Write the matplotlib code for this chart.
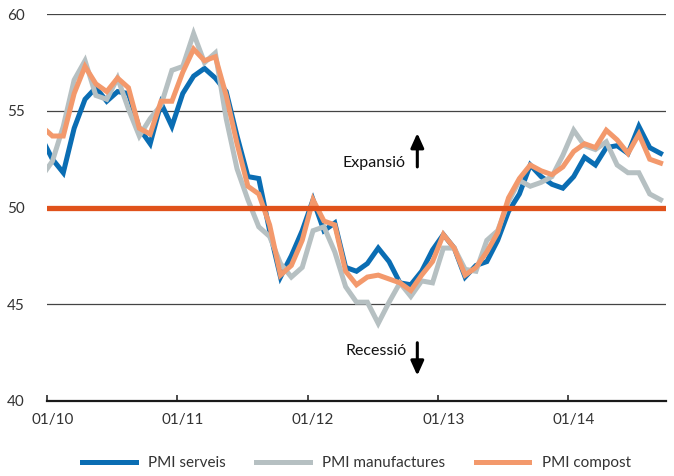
import numpy as np
import pandas as pd
import matplotlib
matplotlib.use("Agg")
import matplotlib.pyplot as plt

# ------------------------------------------------------------
# DATA (monthly PMI, Dec 2009 - Sep 2014)
# ------------------------------------------------------------
months = pd.period_range("2009-12", "2014-09", freq="M")

serveis = [
    53.6,
    52.5, 51.8, 54.1, 55.6, 56.2, 55.5, 56.0, 55.9, 54.1, 53.3, 55.4, 54.2,
    55.9, 56.8, 57.2, 56.7, 56.0, 53.7, 51.6, 51.5, 48.8, 46.4, 47.5, 48.8,
    50.4, 48.8, 49.2, 46.9, 46.7, 47.1, 47.9, 47.2, 46.1, 46.0, 46.7, 47.8,
    48.6, 47.9, 46.4, 47.0, 47.2, 48.3, 49.8, 50.7, 52.2, 51.6, 51.2, 51.0,
    51.6, 52.6, 52.2, 53.1, 53.2, 52.8, 54.2, 53.1, 52.8,
]

manufactures = [
    51.6,
    52.4, 54.2, 56.6, 57.6, 55.8, 55.6, 56.7, 55.1, 53.7, 54.6, 55.3, 57.1,
    57.3, 59.0, 57.5, 58.0, 54.6, 52.0, 50.4, 49.0, 48.5, 47.1, 46.4, 46.9,
    48.8, 49.0, 47.7, 45.9, 45.1, 45.1, 44.0, 45.1, 46.1, 45.4, 46.2, 46.1,
    47.9, 47.9, 46.8, 46.7, 48.3, 48.8, 50.3, 51.4, 51.1, 51.3, 51.6, 52.7,
    54.0, 53.2, 53.0, 53.4, 52.2, 51.8, 51.8, 50.7, 50.4,
]

compost = [
    54.2,
    53.7, 53.7, 55.9, 57.3, 56.4, 56.0, 56.7, 56.2, 54.1, 53.8, 55.5, 55.5,
    57.0, 58.2, 57.6, 57.8, 55.8, 53.3, 51.1, 50.7, 49.1, 46.5, 47.0, 48.3,
    50.4, 49.3, 49.1, 46.7, 46.0, 46.4, 46.5, 46.3, 46.1, 45.7, 46.5, 47.2,
    48.6, 47.9, 46.5, 46.9, 47.7, 48.7, 50.5, 51.5, 52.2, 51.9, 51.7, 52.1,
    52.9, 53.3, 53.1, 54.0, 53.5, 52.8, 53.8, 52.5, 52.3,
]

threshold = 50
tick_months = [pd.Period(m, "M") for m in ["2010-01", "2011-01", "2012-01", "2013-01", "2014-01"]]
tick_labels = ["01/10", "01/11", "01/12", "01/13", "01/14"]
axis_end = pd.Period("2014-10", "M")

series_names = ["PMI serveis", "PMI manufactures", "PMI compost"]
series_colors = ["#0a6db3", "#b6c0c2", "#f3996c"]

# ------------------------------------------------------------
# PLOTTING
# ------------------------------------------------------------
plt.rcParams["font.family"] = ["Lato", "DejaVu Sans"]

origin = pd.Period("2010-01", "M")
x = np.array([(m - origin).n for m in months]) + 0.5   # mid-month
x_ticks = [(m - origin).n for m in tick_months]
x_end = (axis_end - origin).n

fig = plt.figure(figsize=(6.74, 4.76), dpi=100)
ax = fig.add_axes([47 / 674, 1 - 400.7 / 476, 619 / 674, 386.4 / 476])

for vals, name, col in zip([serveis, manufactures, compost], series_names, series_colors):
    ax.plot(x, vals, color=col, lw=3.6, label=name, zorder=3,
            solid_joinstyle="miter")

ax.axhline(threshold, color="#e0521b", lw=3.8, zorder=4, solid_capstyle="round")

ax.set_xlim(0, x_end)
ax.set_ylim(40, 60)
ax.set_yticks([40, 45, 50, 55, 60])
ax.grid(axis="y", color="#444444", lw=0.9, zorder=0)

for s in ["top", "right", "left"]:
    ax.spines[s].set_visible(False)
ax.spines["bottom"].set_linewidth(1.6)
ax.spines["bottom"].set_color("#1a1a1a")

ax.set_xticks(x_ticks)
ax.set_xticklabels([])
ax.set_xticks(np.array(x_ticks) + 0.5, minor=True)
ax.set_xticklabels(tick_labels, minor=True)
ax.tick_params(axis="x", which="major", direction="in", length=4, width=1.1,
               color="#1a1a1a")
ax.tick_params(axis="x", which="minor", length=0, pad=9, labelsize=11,
               labelcolor="#333333")
ax.tick_params(axis="y", length=0, pad=16, labelsize=11, labelcolor="#333333")

# Expansion / recession annotations
arrow_style = dict(arrowstyle="-|>,head_width=0.28,head_length=0.62",
                   color="black", lw=2.2, mutation_scale=14,
                   shrinkA=0, shrinkB=0)
ax.text(33.0, 52.3, "Expansió", ha="right", va="center", fontsize=11.5,
        color="#111111")
ax.annotate("", xy=(34.1, 53.85), xytext=(34.1, 52.1), arrowprops=arrow_style)
ax.text(33.1, 42.55, "Recessió", ha="right", va="center", fontsize=11.5,
        color="#111111")
ax.annotate("", xy=(34.1, 41.3), xytext=(34.1, 43.0), arrowprops=arrow_style)

ax.legend(loc="center", bbox_to_anchor=(0.5, -0.161), ncol=3, frameon=False,
          handlelength=3.5, handletextpad=0.8, columnspacing=2.0, fontsize=11,
          labelcolor="#333333")

fig.savefig("out.png", dpi=100)
